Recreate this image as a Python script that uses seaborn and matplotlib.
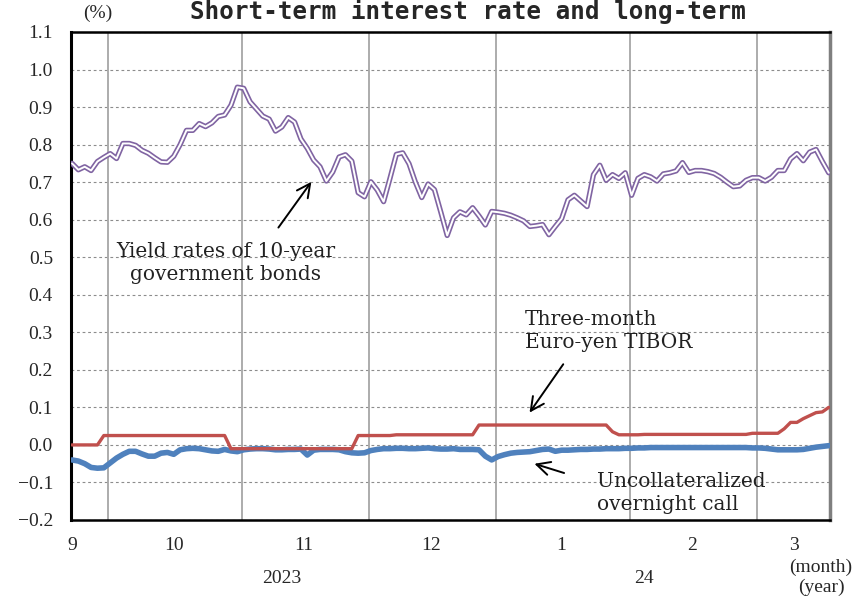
import matplotlib
matplotlib.use("Agg")
import matplotlib.pyplot as plt
import seaborn as sns
import numpy as np
import pandas as pd

# x axis: business days, grouped by month (Sep 2023 - Mar 2024)
month_labels = ["9", "10", "11", "12", "1", "2", "3"]
month_days = [6, 21, 20, 20, 21, 20, 12]
year_labels = ["2023", "24"]
y_ticks = [-0.2, -0.1, 0.0, 0.1, 0.2, 0.3, 0.4, 0.5, 0.6, 0.7, 0.8, 0.9, 1.0, 1.1]

# yield rates of 10-year government bonds (%)
jgb_10y = [
    0.750, 0.733, 0.741, 0.731, 0.755, 0.766, 0.776, 0.763, 0.803, 0.803,
    0.798, 0.785, 0.777, 0.765, 0.754, 0.753, 0.769, 0.800, 0.838, 0.838,
    0.856, 0.848, 0.858, 0.875, 0.879, 0.905, 0.953, 0.950, 0.914, 0.895,
    0.876, 0.868, 0.836, 0.847, 0.872, 0.860, 0.815, 0.790, 0.759, 0.741,
    0.703, 0.727, 0.767, 0.773, 0.756, 0.672, 0.661, 0.701, 0.679, 0.648,
    0.710, 0.774, 0.778, 0.749, 0.700, 0.659, 0.695, 0.680, 0.620, 0.558,
    0.605, 0.621, 0.613, 0.632, 0.610, 0.586, 0.622, 0.620, 0.617, 0.612,
    0.605, 0.597, 0.582, 0.584, 0.587, 0.560, 0.582, 0.603, 0.653, 0.665,
    0.650, 0.635, 0.720, 0.745, 0.705, 0.720, 0.710, 0.725, 0.665, 0.710,
    0.720, 0.714, 0.703, 0.722, 0.725, 0.730, 0.752, 0.726, 0.731, 0.731,
    0.728, 0.723, 0.713, 0.700, 0.688, 0.690, 0.705, 0.712, 0.712, 0.703,
    0.713, 0.731, 0.731, 0.762, 0.776, 0.757, 0.780, 0.787, 0.755, 0.725,
]

# three-month Euro-yen TIBOR (%)
tibor_3m = [
    0.000, 0.000, 0.000, 0.000, 0.000, 0.025, 0.025, 0.025, 0.025, 0.025,
    0.025, 0.025, 0.025, 0.025, 0.025, 0.025, 0.025, 0.025, 0.025, 0.025,
    0.025, 0.025, 0.025, 0.025, 0.025, -0.010, -0.010, -0.010, -0.010, -0.010,
    -0.010, -0.010, -0.010, -0.010, -0.010, -0.010, -0.010, -0.010, -0.010, -0.010,
    -0.010, -0.010, -0.010, -0.010, -0.010, 0.025, 0.025, 0.025, 0.025, 0.025,
    0.025, 0.027, 0.027, 0.027, 0.027, 0.027, 0.027, 0.027, 0.027, 0.027,
    0.027, 0.027, 0.027, 0.027, 0.053, 0.053, 0.053, 0.053, 0.053, 0.053,
    0.053, 0.053, 0.053, 0.053, 0.053, 0.053, 0.053, 0.053, 0.053, 0.053,
    0.053, 0.053, 0.053, 0.053, 0.053, 0.035, 0.027, 0.027, 0.027, 0.027,
    0.028, 0.028, 0.028, 0.028, 0.028, 0.028, 0.028, 0.028, 0.028, 0.028,
    0.028, 0.028, 0.028, 0.028, 0.028, 0.028, 0.028, 0.031, 0.031, 0.031,
    0.031, 0.031, 0.043, 0.060, 0.060, 0.070, 0.078, 0.086, 0.088, 0.100,
]

# uncollateralized overnight call rate (%)
call_rate = [
    -0.040, -0.043, -0.050, -0.060, -0.062, -0.061, -0.048, -0.035, -0.025, -0.017,
    -0.017, -0.024, -0.030, -0.030, -0.022, -0.020, -0.025, -0.013, -0.010, -0.009,
    -0.010, -0.013, -0.016, -0.017, -0.012, -0.016, -0.018, -0.013, -0.011, -0.010,
    -0.010, -0.011, -0.013, -0.013, -0.012, -0.012, -0.011, -0.027, -0.014, -0.012,
    -0.012, -0.012, -0.013, -0.018, -0.021, -0.022, -0.021, -0.015, -0.012, -0.010,
    -0.010, -0.009, -0.009, -0.010, -0.010, -0.009, -0.008, -0.010, -0.011, -0.011,
    -0.010, -0.012, -0.012, -0.012, -0.013, -0.030, -0.040, -0.031, -0.026, -0.022,
    -0.020, -0.019, -0.018, -0.015, -0.012, -0.011, -0.017, -0.014, -0.014, -0.013,
    -0.012, -0.012, -0.011, -0.011, -0.010, -0.010, -0.010, -0.009, -0.009, -0.008,
    -0.008, -0.007, -0.007, -0.007, -0.007, -0.007, -0.007, -0.007, -0.007, -0.007,
    -0.007, -0.007, -0.007, -0.007, -0.007, -0.007, -0.007, -0.008, -0.008, -0.009,
    -0.011, -0.013, -0.013, -0.013, -0.013, -0.012, -0.009, -0.006, -0.004, -0.002,
]

df = pd.DataFrame({
    "day": np.arange(len(jgb_10y)),
    "jgb": jgb_10y,
    "tibor": tibor_3m,
    "call": call_rate,
})

PURPLE = "#8064A2"
RED = "#C0504D"
BLUE = "#4F81BD"

sns.set_style("white")
plt.rcParams["font.family"] = ["Liberation Serif", "DejaVu Serif"]

fig = plt.figure(figsize=(8.6, 5.98), dpi=100)
ax = fig.add_axes([71 / 860, 78 / 598, 759 / 860, 488 / 598])

# month separators
ends = np.cumsum(month_days)
for b in ends[:-1] - 0.3:
    ax.axvline(b, color="#a6a6a6", lw=1.3, zorder=1)

ax.yaxis.grid(True, linestyle=(0, (2.5, 2.5)), color="#8c8c8c", lw=0.8, zorder=0)
ax.xaxis.grid(False)

# lines (the 10-year yield is drawn as a double line)
sns.lineplot(data=df, x="day", y="call", color=BLUE, lw=4.0, ax=ax, zorder=3)
sns.lineplot(data=df, x="day", y="tibor", color=RED, lw=2.4, ax=ax, zorder=3)
sns.lineplot(data=df, x="day", y="jgb", color=PURPLE, lw=3.8, ax=ax, zorder=4)
sns.lineplot(data=df, x="day", y="jgb", color="white", lw=1.4, ax=ax, zorder=5)

ax.set_xlim(-0.16, 119.2)
ax.set_ylim(-0.2, 1.1)
ax.set_xlabel("")
ax.set_ylabel("")

# ticks
starts = ends - np.array(month_days)
month_pos = (starts + (np.array(month_days) - 1) / 2).astype(float)
month_pos[0] = 0
ax.set_xticks(month_pos, month_labels)
ax.set_yticks(y_ticks, [f"{v:.1f}".replace("-", "\u2212") for v in y_ticks])
ax.tick_params(axis="x", length=0, pad=12, labelsize=14)
ax.tick_params(axis="y", length=0, pad=13, labelsize=14)

# spines
for side in ["left", "bottom", "top"]:
    ax.spines[side].set_color("black")
ax.spines["left"].set_linewidth(2.2)
ax.spines["bottom"].set_linewidth(1.8)
ax.spines["top"].set_linewidth(1.8)
ax.spines["right"].set_color("#7f7f7f")
ax.spines["right"].set_linewidth(2.5)

# year labels and unit labels
xt = ax.get_xaxis_transform()
ax.text(33, -0.119, year_labels[0], transform=xt, ha="center", va="center", fontsize=14)
ax.text(90, -0.119, year_labels[1], transform=xt, ha="center", va="center", fontsize=14)
ax.text(117.8, -0.096, "(month)", transform=xt, ha="center", va="center", fontsize=14, clip_on=False)
ax.text(117.8, -0.137, "(year)", transform=xt, ha="center", va="center", fontsize=14, clip_on=False)
fig.text(98 / 860, 1 - 13 / 598, "(%)", ha="center", va="center", fontsize=14)

# title
fig.text(468 / 860, 1 - 19 / 598, "Short-term interest rate and long-term",
         ha="center", va="baseline", family="DejaVu Sans Mono", weight="bold", fontsize=17.5)

# annotations
arrow = dict(arrowstyle="->", color="black", lw=1.4, mutation_scale=24)
ann_font = dict(family="DejaVu Serif", fontsize=14.5, color="#222222")
ax.annotate("", xy=(37.9, 0.707), xytext=(32.2, 0.573), arrowprops=arrow)
ax.text(24.2, 0.485, "Yield rates of 10-year\ngovernment bonds", ha="center", va="center",
        linespacing=1.25, **ann_font)
ax.annotate("", xy=(71.7, 0.08), xytext=(77.5, 0.221), arrowprops=arrow)
ax.text(71.2, 0.304, "Three-month\nEuro-yen TIBOR", ha="left", va="center",
        linespacing=1.25, **ann_font)
ax.annotate("", xy=(72.3, -0.048), xytext=(77.8, -0.077), arrowprops=arrow)
ax.text(82.5, -0.128, "Uncollateralized\novernight call", ha="left", va="center",
        linespacing=1.25, **ann_font)

plt.savefig("out.png", dpi=100)
plt.close()
